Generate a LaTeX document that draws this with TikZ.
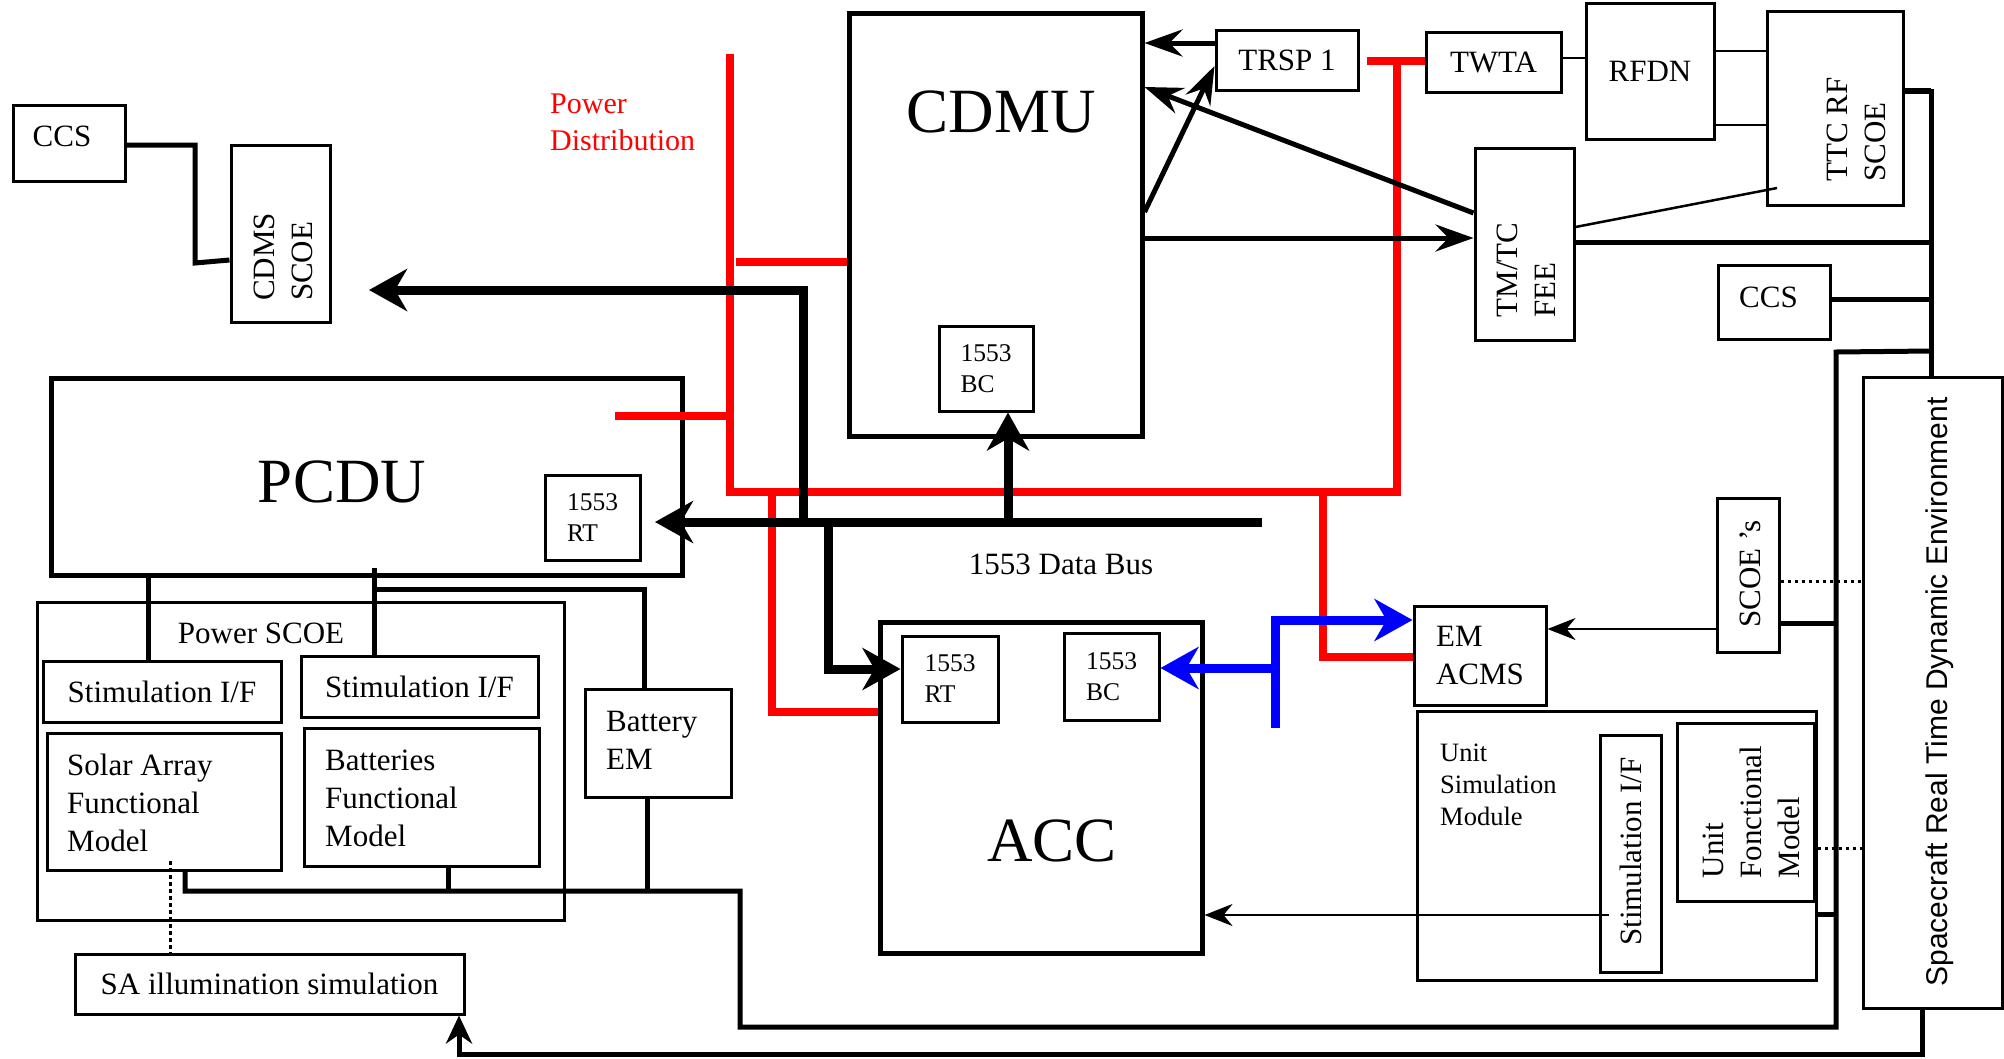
\documentclass[tikz,border=0pt]{standalone}
\usepackage{fontspec}
\setmainfont{Liberation Serif}
\newfontfamily\scsans{Liberation Sans}
\usetikzlibrary{arrows.meta}
\newcommand\fsz[2]{\fontsize{#1}{#2}\selectfont}
\begin{document}
\begin{tikzpicture}[x=1pt,y=-1pt,
  box/.style={draw,line width=3pt,inner sep=0pt,align=center,font=\fsz{31}{38}},
  heavybox/.style={box,line width=5pt},
  lbl/.style={inner sep=0pt,font=\fsz{31}{38}},
  smallbox/.style={box,align=left,font=\fsz{25.5}{31}},
  big/.style={inner sep=0pt,font=\fsz{63}{70}},
  thickblk/.style={line width=9pt},
  medl/.style={line width=5pt},
  thinl/.style={line width=2.5pt},
  dotl/.style={line width=3pt,dash pattern=on 3.5pt off 3.5pt},
  redl/.style={red,line width=8pt},
  bluel/.style={blue,line width=9pt},
  bigtip/.style={-{Stealth[length=38pt,width=42pt,inset=12pt]}},
  medtip/.style={-{Stealth[length=38pt,width=27pt,inset=13pt]}},
  satip/.style={-{Stealth[length=28pt,width=26pt,inset=9pt]}},
  smalltip/.style={-{Stealth[length=28pt,width=22pt,inset=9pt]}},
]
\fill[white] (0,0) rectangle (2004,1058);
\useasboundingbox (0,0) rectangle (2004,1058);

% ---------- nodes ----------
\node[box,minimum width=112pt,minimum height=76pt] (ccsA) at (69,143) {};
\node[lbl] (ccsAt) at (62,136) {CCS};
\node[box,minimum width=99pt,minimum height=177pt] (cdms) at (280.5,233.5) {};
\node[lbl,rotate=90,align=left] (cdmst) at (283,257) {CDMS\\SCOE};

\node[heavybox,minimum width=631pt,minimum height=197pt] (pcdu) at (366.5,476.5) {};
\node[big] (pcdut) at (342,482) {PCDU};
\node[smallbox,minimum width=95pt,minimum height=85pt] (pcdurt) at (592.5,517.5) {1553\\RT};

\node[heavybox,minimum width=293pt,minimum height=423pt] (cdmu) at (995.5,224.5) {};
\node[big] (cdmut) at (1001,112) {CDMU};
\node[smallbox,minimum width=94pt,minimum height=85pt] (cdmubc) at (986,368.5) {1553\\BC};

\node[box,minimum width=142pt,minimum height=60pt] (trsp) at (1287,60) {TRSP 1};
\node[box,minimum width=135pt,minimum height=60pt] (twta) at (1493.5,62) {TWTA};
\node[box,minimum width=128pt,minimum height=136pt] (rfdn) at (1650,71) {RFDN};
\node[box,minimum width=136pt,minimum height=194pt] (ttc) at (1835,108) {};
\node[lbl,rotate=90,align=left] (ttct) at (1856,129.5) {TTC RF\\SCOE};
\node[box,minimum width=99pt,minimum height=192pt] (fee) at (1524.5,244) {};
\node[lbl,rotate=90,align=left] (feet) at (1526,270) {TM/TC\\FEE};
\node[box,minimum width=112pt,minimum height=74pt] (ccsB) at (1774,302) {};
\node[lbl] (ccsBt) at (1768.5,297) {CCS};
\node[box,minimum width=62pt,minimum height=154pt] (scoes) at (1748,575) {};
\node[lbl,rotate=90] (scoest) at (1750,574) {SCOE ’s};
\node[box,minimum width=139pt,minimum height=631pt] (scrt) at (1932.5,692.5) {};
\node[inner sep=0pt,rotate=90,font=\scsans\fsz{30}{36}] (scrtt) at (1940,692) {Spacecraft Real Time Dynamic Environment};

\node[box,minimum width=132pt,minimum height=99pt,align=left] (emacms) at (1480,655.5) {EM\\ACMS};
\node[heavybox,minimum width=322pt,minimum height=331pt] (acc) at (1041,787.5) {};
\node[big] (acct) at (1052,841) {ACC};
\node[smallbox,minimum width=96pt,minimum height=86pt] (accrt) at (950,679) {1553\\RT};
\node[smallbox,minimum width=95pt,minimum height=87pt] (accbc) at (1111.5,676.5) {1553\\BC};

\node[box,minimum width=399pt,minimum height=269pt] (usm) at (1616.5,845.5) {};
\node[lbl,anchor=west,align=left,font=\fsz{26.5}{32}] (usmt) at (1440,785) {Unit\\Simulation\\Module};
\node[box,minimum width=61pt,minimum height=237pt] (stimU) at (1630.5,853.5) {};
\node[lbl,rotate=90] (stimUt) at (1630.5,851.5) {Stimulation I/F};
\node[box,minimum width=137pt,minimum height=178pt] (ufm) at (1745.5,812) {};
\node[lbl,rotate=90,align=left] (ufmt) at (1751,812) {Unit\\Fonctional\\Model};

\node[box,minimum width=527pt,minimum height=318pt] (pscoe) at (300.5,761) {};
\node[lbl] (pscoet) at (261,633) {Power SCOE};
\node[box,minimum width=238pt,minimum height=61pt] (stimA) at (162,691.5) {Stimulation I/F};
\node[box,minimum width=237pt,minimum height=61pt] (stimB) at (419.5,686.5) {Stimulation I/F};
\node[box,minimum width=234pt,minimum height=137pt] (safm) at (164,801.5) {};
\node[lbl,anchor=west,align=left] (safmt) at (67,803) {Solar Array\\Functional\\Model};
\node[box,minimum width=235pt,minimum height=138pt] (batfm) at (421.5,797) {};
\node[lbl,anchor=west,align=left] (batfmt) at (325,798) {Batteries\\Functional\\Model};
\node[box,minimum width=146pt,minimum height=108pt] (batem) at (658,743) {};
\node[lbl,anchor=west,align=left] (batemt) at (606,740) {Battery\\EM};
\node[box,minimum width=389pt,minimum height=60pt] (saill) at (269.5,984) {SA illumination simulation};

\node[lbl,anchor=west,align=left,text=red,font=\fsz{30}{37}] (pdt) at (550,122.5) {Power\\Distribution};
\node[lbl] (bust) at (1061,564) {1553 Data Bus};

% ---------- named free ends ----------
\coordinate (rTop) at (730,54);
\coordinate (rTl) at (1367,61);
\coordinate (rCdmu) at (736,262);
\coordinate (rPcdu) at (615,416);
\coordinate (rPcduR) at (734,416);
\coordinate (busR) at (1262,522);
\coordinate (busTip) at (655,522);
\coordinate (cdmsTip) at (369,290);
\coordinate (bBot) at (1275,728);
\coordinate (ttcIn) at (1777,188);
\coordinate (stimOut) at (1609,915);
\coordinate (rvTop) at (1931,89);
\coordinate (retV) at (1836,352);
\coordinate (pcduB) at (374,568);
\coordinate (saDot) at (170,861);

% ---------- red power distribution ----------
\draw[redl] (rTop) -- (730,492) -- (1397,492) -- (1397,61);
\draw[redl] (rTl) -- (twta.west |- rTl);
\draw[redl] (rCdmu) -- (cdmu.west |- rCdmu);
\draw[redl] (rPcdu) -- (rPcduR);
\draw[redl] (772,492) -- (772,712) -- (acc.west |- 0,712);
\draw[redl] (1323,492) -- (1323,657) -- (emacms.west |- 0,657);

% ---------- 1553 bus ----------
\draw[thickblk,bigtip] (busR) -- (busTip);
\draw[thickblk,bigtip] (1008,522) -- (cdmubc.south -| 1008,0);
\draw[thickblk,bigtip] (803,522) -- (803,290) -- (cdmsTip);
\draw[thickblk,bigtip] (828,522) -- (828,669) -- (accrt.west |- 0,669);

% ---------- blue ----------
\draw[bluel,bigtip] (bBot) -- (1275,620) -- (emacms.west |- 0,620);
\draw[bluel,bigtip] (1275,668) -- (accbc.east |- 0,668);

% ---------- CDMU / RF links ----------
\draw[medl,medtip] (trsp.west |- 0,43) -- (cdmu.east |- 0,43);
\draw[medl,medtip] (cdmu.east |- 0,212) -- (trsp.west |- 0,66);
\draw[medl,medtip] (fee.west |- 0,213) -- (cdmu.east |- 0,87);
\draw[medl,medtip] (cdmu.east |- 0,238) -- (fee.west |- 0,238);
\draw[thinl] (twta.east |- 0,58) -- (rfdn.west |- 0,58);
\draw[thinl] (rfdn.east |- 0,51) -- (ttc.west |- 0,51);
\draw[thinl] (rfdn.east |- 0,125) -- (ttc.west |- 0,125);
\draw[thinl] (fee.east |- 0,227) -- (ttcIn);

% ---------- right side ----------
\draw[medl] (rvTop) -- (scrt.north -| rvTop);
\draw[line width=6pt] (ttc.east |- 0,91) -- (rvTop |- 0,91);
\draw[medl] (fee.east |- 0,242) -- (rvTop |- 0,242);
\draw[medl] (ccsB.east |- 0,299) -- (rvTop |- 0,299);
\draw[medl] (rvTop |- 0,351) -- (retV) -- (1836,1027) -- (740,1027) -- (740,891) -- (185,891) -- (safm.south -| 185,0);
\draw[medl] (448,891) -- (batfm.south -| 448,0);
\draw[medl] (647,891) -- (batem.south -| 647,0);
\draw[medl] (scoes.east |- 0,623) -- (retV |- 0,623);
\draw[medl] (usm.east |- 0,914) -- (retV |- 0,914);
\draw[medl,satip] (scrt.south -| 1922,0) -- (1922,1054) -- (459,1054) -- (saill.south -| 459,0);
\draw[thinl,smalltip] (scoes.west |- 0,629) -- (emacms.east |- 0,629);
\draw[thinl,smalltip] (stimOut) -- (acc.east |- stimOut);

% ---------- left side ----------
\draw[medl] (ccsA.east |- 0,145) -- (195,145) -- (195,263) -- (cdms.west |- 0,260);
\draw[medl] (pcdu.south -| 148,0) -- (stimA.north -| 148,0);
\draw[medl] (pcduB) -- (stimB.north -| pcduB);
\draw[medl] (374,589) -- (644,589) -- (batem.north -| 644,0);

% ---------- dotted ----------
\draw[dotl] (saDot) -- (saill.north -| saDot);
\draw[dotl] (scoes.east |- 0,581) -- (scrt.west |- 0,581);
\draw[dotl] (usm.east |- 0,848) -- (scrt.west |- 0,848);
\end{tikzpicture}
\end{document}
